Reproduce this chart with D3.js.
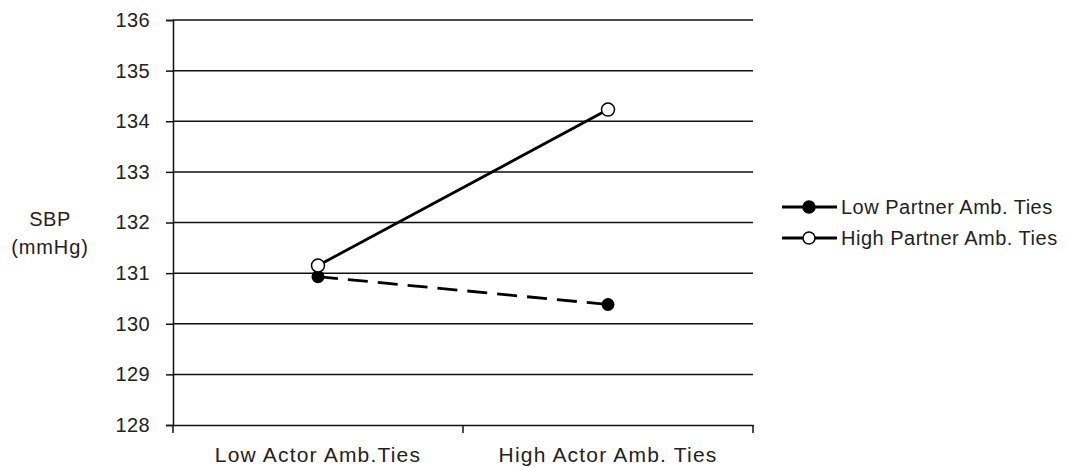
<html>
<head>
<style>
  body { margin: 0; background: #fff; }
  text { font-family: "Liberation Sans", Arial, sans-serif; fill: #222; }
</style>
</head>
<body>
<svg></svg>
<script src="https://d3js.org/d3.v7.min.js"></script>
<script>
// data
var categories = ["Low Actor Amb.Ties", "High Actor Amb. Ties"];
var seriesNames = ["Low Partner Amb. Ties", "High Partner Amb. Ties"];
var lowPartner = [130.93, 130.38];
var highPartner = [131.15, 134.23];
var yTicks = [128, 129, 130, 131, 132, 133, 134, 135, 136];

var width = 1066, height = 467;
var svg = d3.select("svg").attr("width", width).attr("height", height);

var margin = {top: 20, left: 173, right: 313, bottom: 42};

var x = d3.scaleBand().domain(categories).range([margin.left, width - margin.right]);
var y = d3.scaleLinear().domain([128, 136]).range([height - margin.bottom, margin.top]);

// gridlines
svg.append("g").selectAll("line")
  .data(yTicks.slice(1))
  .enter().append("line")
  .attr("x1", margin.left).attr("x2", width - margin.right)
  .attr("y1", function(d) { return y(d); }).attr("y2", function(d) { return y(d); })
  .attr("stroke", "#111").attr("stroke-width", 1.5);

// y axis
var yAxis = svg.append("g")
  .attr("transform", "translate(" + margin.left + ",0)")
  .call(d3.axisLeft(y).tickValues(yTicks).tickSize(7).tickPadding(16).tickFormat(d3.format("d")));
yAxis.select(".domain").attr("stroke", "#111").attr("stroke-width", 1.5);
yAxis.selectAll(".tick line").attr("stroke", "#111").attr("stroke-width", 1.5);
yAxis.selectAll("text").style("font-size", "20px").style("letter-spacing", "0.4px").attr("fill", "#222");

// x axis
var xAxis = svg.append("g")
  .attr("transform", "translate(0," + y(128) + ")")
  .call(d3.axisBottom(x).tickSize(0).tickPadding(22));
xAxis.select(".domain").attr("stroke", "#111").attr("stroke-width", 1.5);
xAxis.selectAll("text").style("font-size", "21px").style("letter-spacing", "1.2px").attr("fill", "#222");
// boundary ticks between categories
var bounds = [x.range()[0], x(categories[1]), x.range()[1]];
xAxis.selectAll(".bound").data(bounds).enter().append("line")
  .attr("x1", function(d) { return d; }).attr("x2", function(d) { return d; })
  .attr("y1", 0).attr("y2", 8)
  .attr("stroke", "#111").attr("stroke-width", 1.5);

// y label
svg.append("text").attr("x", 50).attr("y", 226).attr("text-anchor", "middle")
  .style("font-size", "20px").style("letter-spacing", "0.5px").text("SBP");
svg.append("text").attr("x", 50).attr("y", 254).attr("text-anchor", "middle")
  .style("font-size", "20px").style("letter-spacing", "0.9px").text("(mmHg)");

var cx = function(i) { return x(categories[i]) + x.bandwidth() / 2; };
var line = d3.line().x(function(d, i) { return cx(i); }).y(function(d) { return y(d); });

// lines
svg.append("path").datum(lowPartner).attr("d", line)
  .attr("fill", "none").attr("stroke", "#000").attr("stroke-width", 2.8)
  .attr("stroke-dasharray", "20,10");
svg.append("path").datum(highPartner).attr("d", line)
  .attr("fill", "none").attr("stroke", "#000").attr("stroke-width", 2.8);

// markers
svg.append("g").selectAll("circle").data(lowPartner).enter().append("circle")
  .attr("cx", function(d, i) { return cx(i); }).attr("cy", function(d) { return y(d); })
  .attr("r", 6.5).attr("fill", "#000");
svg.append("g").selectAll("circle").data(highPartner).enter().append("circle")
  .attr("cx", function(d, i) { return cx(i); }).attr("cy", function(d) { return y(d); })
  .attr("r", 6.5).attr("fill", "#fff").attr("stroke", "#000").attr("stroke-width", 1.5);

// legend
var legend = svg.append("g").attr("transform", "translate(782,207)");
var items = legend.selectAll("g").data(seriesNames).enter().append("g")
  .attr("transform", function(d, i) { return "translate(0," + i * 31 + ")"; });
items.append("line").attr("x1", 0).attr("x2", 55).attr("y1", 0).attr("y2", 0)
  .attr("stroke", "#000").attr("stroke-width", 2.8);
items.append("circle").attr("cx", 27).attr("cy", 0).attr("r", 6)
  .attr("fill", function(d, i) { return i === 0 ? "#000" : "#fff"; })
  .attr("stroke", "#000").attr("stroke-width", 1.5);
items.append("text").attr("x", 59).attr("y", 7)
  .style("font-size", "20px").style("letter-spacing", "0.5px").text(function(d) { return d; });
</script>
</body>
</html>
